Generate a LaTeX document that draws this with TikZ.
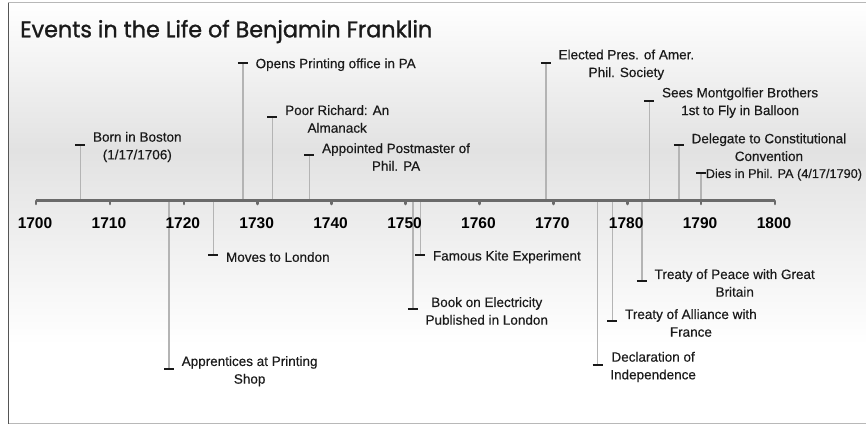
\documentclass[tikz,border=0pt]{standalone}
\usepackage{fontspec}
\setmainfont{Liberation Sans}
\newfontfamily\titlefont{Poppins}[FakeBold=1.2]
\newfontfamily\evfont{Liberation Sans}[FakeBold=0.4]
\usepackage{graphicx}
\definecolor{bgpeak}{HTML}{E2E2E2}
\definecolor{stemgray}{HTML}{B4B4B4}
\definecolor{axisgray}{HTML}{6A6A6A}
\definecolor{framedark}{HTML}{555555}
\definecolor{framelight}{HTML}{B8B8B8}
\definecolor{txt}{HTML}{1A1A1A}
\tikzset{
  stem/.style={draw=stemgray, line width=1.5pt},
  dashmark/.style={draw=black!90, line width=2.2pt},
  evtext/.style={text=txt, font=\evfont\fontsize{13.5}{17.7}\selectfont, align=center, inner sep=0pt},
  yeartext/.style={text=black, font=\fontsize{15.5}{18}\selectfont\bfseries, inner sep=0pt},
  axisline/.style={draw=axisgray, line width=3.6pt},
  tickmark/.style={draw=axisgray, line width=2.6pt, line cap=round},
}
\newcommand\bfevent[4]{%
  \pgfmathsetmacro\ex{36+(#1-1700)*7.39}%
  \coordinate (a#1) at (\ex,200.5);%
  \coordinate (d#1) at (\ex,#2);%
  \draw[stem] (a#1) -- (d#1);%
  \draw[dashmark] ([xshift=-5pt]d#1) -- ([xshift=5pt]d#1);%
  \node[evtext, anchor=west] (t#1) at ([xshift=#4,yshift=-2pt]d#1) {#3};%
}
\begin{document}
\begin{tikzpicture}[x=1pt,y=-1pt]
\useasboundingbox (0,0) rectangle (866,425);
% background
\shade[top color=white, bottom color=bgpeak] (8,3) rectangle (866,150);
\shade[top color=bgpeak, bottom color=white] (8,150) rectangle (866,345);
% frame
\draw[framelight, line width=1pt] (8,3) -- (866,3);
\draw[framelight, line width=1pt] (8,423.5) -- (866,423.5);
\draw[framedark, line width=1pt] (8,3) -- (8,424);
% title
\node[anchor=base west, inner sep=0pt, text=txt] (title) at (20,37.3)
  {\resizebox{412pt}{17.3pt}{\titlefont Events in the Life of Benjamin Franklin}};
% events above
\bfevent{1706}{145}{Born in Boston\\(1/17/1706)}{12.5pt}
\bfevent{1728}{62.7}{Opens Printing office in PA}{12.5pt}
\bfevent{1732}{117}{Poor Richard: An\\Almanack}{12.5pt}
\bfevent{1737}{155}{Appointed Postmaster of\\Phil. PA}{12.5pt}
\bfevent{1769}{62.7}{Elected Pres. of Amer.\\Phil. Society}{12.5pt}
\bfevent{1783}{100.7}{Sees Montgolfier Brothers\\1st to Fly in Balloon}{12.5pt}
\bfevent{1787}{145.3}{Delegate to Constitutional\\Convention}{12.5pt}
\bfevent{1790}{172.7}{\fontsize{12.7}{15}\selectfont Dies in Phil. PA (4/17/1790)}{4.5pt}
% events below
\bfevent{1718}{369.3}{Apprentices at Printing\\Shop}{12.5pt}
\bfevent{1724}{255}{Moves to London}{12.5pt}
\bfevent{1751}{309}{Book on Electricity\\Published in London}{12.5pt}
\bfevent{1752}{255}{Famous Kite Experiment}{12.5pt}
\bfevent{1776}{365}{Declaration of\\Independence}{12.5pt}
\bfevent{1778}{321}{Treaty of Alliance with\\France}{12.5pt}
\bfevent{1782}{281}{Treaty of Peace with Great\\Britain}{12.5pt}
% axis
\coordinate (ax0) at (36,200.5);
\coordinate (ax1) at (775,200.5);
\draw[axisline] (ax0) -- (ax1);
\foreach \yr in {1700,1710,...,1800}{
  \pgfmathsetmacro\tx{36+(\yr-1700)*7.39}
  \coordinate (k\yr) at (\tx,201);
  \draw[tickmark] (k\yr) -- ++(0,3);
  \node[yeartext] (y\yr) at (\tx-1,223.3) {\yr};
}
\end{tikzpicture}
\end{document}
